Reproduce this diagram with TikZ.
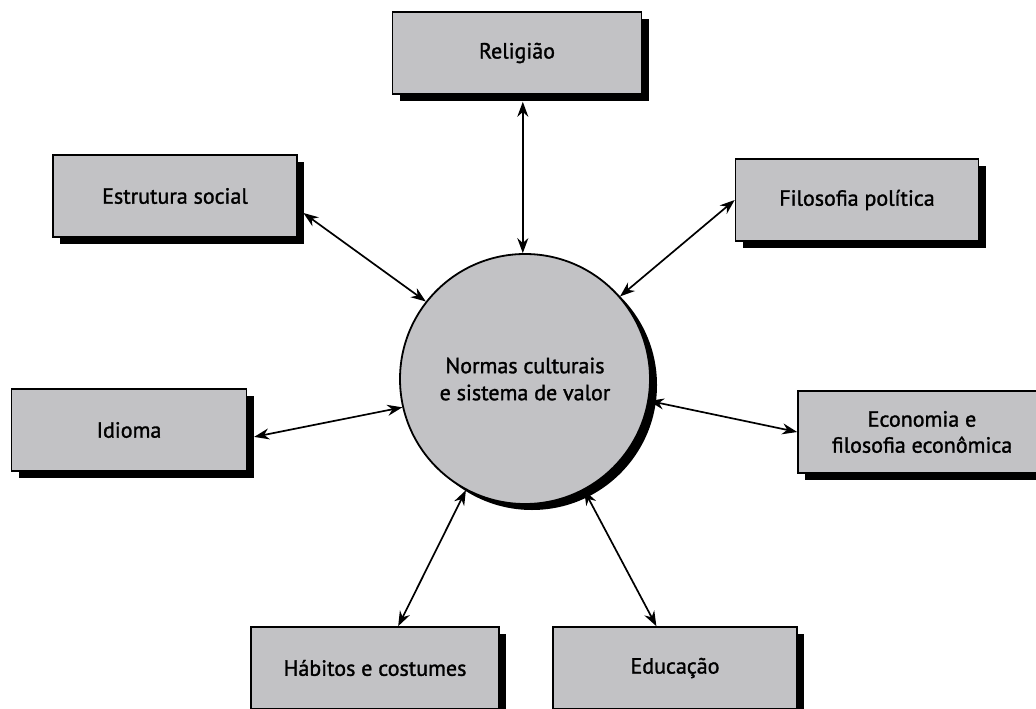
\documentclass[tikz,border=0pt]{standalone}
\usepackage{fontspec}
\setmainfont{PT Sans}
\newfontfamily\labelfont[FakeBold=1.4]{PT Sans}
\usetikzlibrary{arrows.meta,shadows}
\definecolor{boxgray}{RGB}{194,194,197}
\tikzstyle{factor}=[draw,line width=1.6pt,fill=boxgray,minimum height=82pt,inner sep=0pt,align=center,font=\labelfont\fontsize{22}{26}\selectfont,drop shadow={shadow xshift=7pt,shadow yshift=-7pt,fill=black,opacity=1}]
\tikzstyle{core}=[draw,circle,line width=1.8pt,fill=boxgray,minimum size=250pt,inner sep=0pt,align=center,font=\labelfont\fontsize{22}{27}\selectfont,drop shadow={shadow xshift=7pt,shadow yshift=-6pt,fill=black,opacity=1}]
\tikzstyle{link}=[draw,line width=1.7pt,{Stealth[length=15pt,width=11pt]}-{Stealth[length=15pt,width=11pt]}]
\tikzstyle{shadowend}=[shorten >=7pt]
\tikzstyle{plainend}=[]

\begin{document}
\begin{tikzpicture}[x=1pt,y=-1pt]
    \useasboundingbox[fill=white] (0,0) rectangle (1036,709);
    % The central circle
    \node[core] (circ) at (525,379) {Normas culturais\\e sistema de valor};
    % The surrounding boxes
    \foreach \pos/\name/\boxw/\txt in {{(517,53)/relig/249/Religião}, {(175,196)/estr/244/Estrutura social}, {(857,200)/filo/243/Filosofia política}, {(129,430)/idio/235/Idioma}, {(922,432)/econ/248/{Economia e\\filosofia econômica}}, {(375,668)/habi/248/Hábitos e costumes}, {(675,668)/educ/244/Educação}}
        \node[factor,minimum width=\boxw pt] (\name) at \pos {\txt};
    % Two-way arrows from the circle to each box
    \foreach \source/\dest/\extra in {circ.91/circ.91 |- relig.south/shadowend, circ.142/estr.-6/shadowend, circ.41/filo.west/plainend, circ.193/idio.-4/shadowend, circ.-10/econ.west/plainend, circ.242/habi.61/plainend, circ.298/educ.114/plainend}
        \path[link,\extra] (\source) -- (\dest);
\end{tikzpicture}
\end{document}
